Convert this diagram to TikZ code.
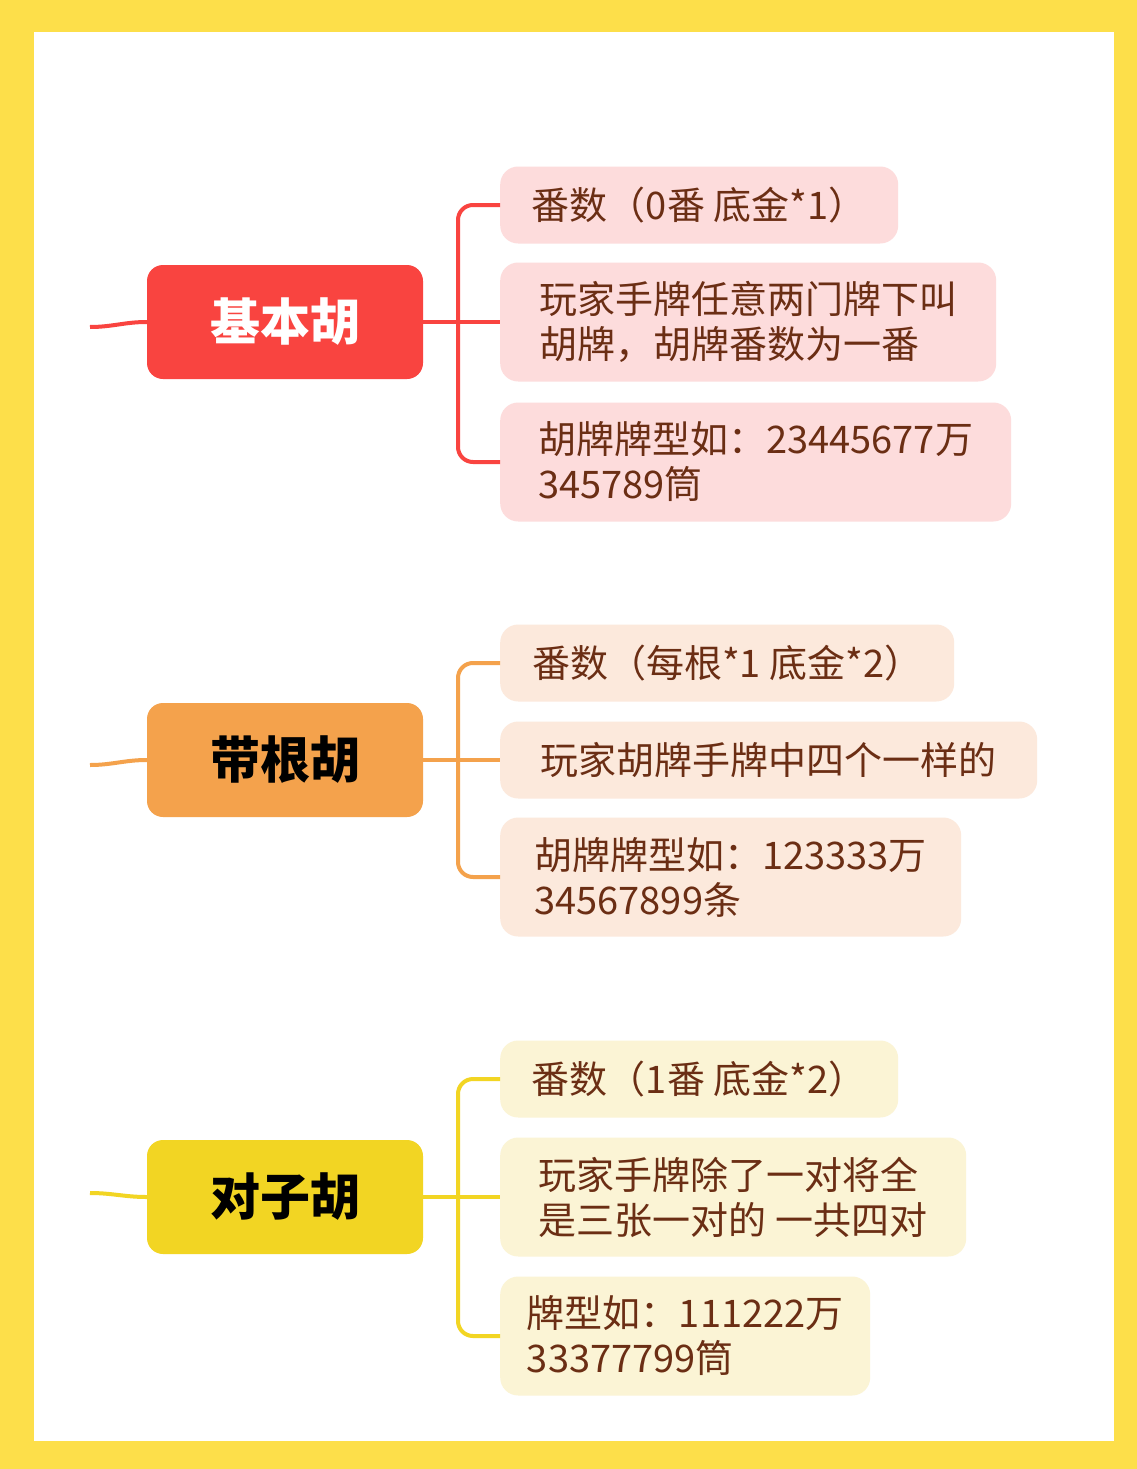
\documentclass[tikz,border=0pt]{standalone}
\usepackage{fontspec}
\newfontfamily\cjk{Noto Sans CJK SC}
\definecolor{frameyellow}{HTML}{FDDF4A}
\definecolor{redmain}{HTML}{F94440}
\definecolor{orangemain}{HTML}{F4A24C}
\definecolor{yellowmain}{HTML}{F2D523}
\definecolor{redsub}{HTML}{FDDCDC}
\definecolor{orangesub}{HTML}{FCE9DC}
\definecolor{yellowsub}{HTML}{FBF4D5}
\definecolor{subtext}{HTML}{6B2E14}
\tikzset{
  mainbox/.style={rounded corners=16pt, minimum width=276pt, minimum height=114pt, font=\cjk\fontsize{50}{56}\selectfont\bfseries, inner sep=0pt},
  subbox/.style={rounded corners=18pt, anchor=west, align=left, inner xsep=18pt, inner ysep=0pt, font=\cjk\fontsize{38}{45}\selectfont, text=subtext},
  link/.style={line width=4pt}
}
\begin{document}
\begin{tikzpicture}[x=1pt,y=-1pt]
\useasboundingbox (0,0) rectangle (1137,1469);
\fill[frameyellow] (0,0) rectangle (1137,1469);
\fill[white] (34,32) rectangle (1114,1441);

% 基本胡
\node[mainbox, fill=redmain, text=white] (m1) at (285,322) {基本胡};
\node[subbox, fill=redsub, minimum width=398pt, minimum height=77pt] (k1a) at (500,205) {番数（0番 底金*1）};
\node[subbox, fill=redsub, minimum width=496pt, minimum height=119pt] (k1b) at (500,322) {玩家手牌任意两门牌下叫\\胡牌，胡牌番数为一番};
\node[subbox, fill=redsub, minimum width=511pt, minimum height=119pt] (k1c) at (500,462) {胡牌牌型如：23445677万\\345789筒};
\coordinate (s1) at (90,327);
\coordinate (j1) at (458,322);
\draw[link, redmain] (s1) to[out=0,in=180] (m1.west);
\draw[link, redmain, rounded corners=15pt] (k1a.west) -| (j1) |- (k1c.west);
\draw[link, redmain] (m1.east) -- (k1b.west);

% 带根胡
\node[mainbox, fill=orangemain, text=black] (m2) at (285,760) {带根胡};
\node[subbox, fill=orangesub, minimum width=454pt, minimum height=77pt] (k2a) at (500,663) {番数（每根*1 底金*2）};
\node[subbox, fill=orangesub, minimum width=537pt, minimum height=77pt] (k2b) at (500,760) {玩家胡牌手牌中四个一样的};
\node[subbox, fill=orangesub, minimum width=461pt, minimum height=119pt] (k2c) at (500,877) {胡牌牌型如：123333万\\34567899条};
\coordinate (s2) at (90,765);
\coordinate (j2) at (458,760);
\draw[link, orangemain] (s2) to[out=0,in=180] (m2.west);
\draw[link, orangemain, rounded corners=15pt] (k2a.west) -| (j2) |- (k2c.west);
\draw[link, orangemain] (m2.east) -- (k2b.west);

% 对子胡
\node[mainbox, fill=yellowmain, text=black] (m3) at (285,1197) {对子胡};
\node[subbox, fill=yellowsub, minimum width=398pt, minimum height=77pt] (k3a) at (500,1079) {番数（1番 底金*2）};
\node[subbox, fill=yellowsub, minimum width=466pt, minimum height=119pt] (k3b) at (500,1197) {玩家手牌除了一对将全\\是三张一对的 一共四对};
\node[subbox, fill=yellowsub, minimum width=370pt, minimum height=119pt] (k3c) at (500,1336) {牌型如：111222万\\33377799筒};
\coordinate (s3) at (90,1193);
\coordinate (j3) at (458,1197);
\draw[link, yellowmain] (s3) to[out=0,in=180] (m3.west);
\draw[link, yellowmain, rounded corners=15pt] (k3a.west) -| (j3) |- (k3c.west);
\draw[link, yellowmain] (m3.east) -- (k3b.west);
\end{tikzpicture}
\end{document}
